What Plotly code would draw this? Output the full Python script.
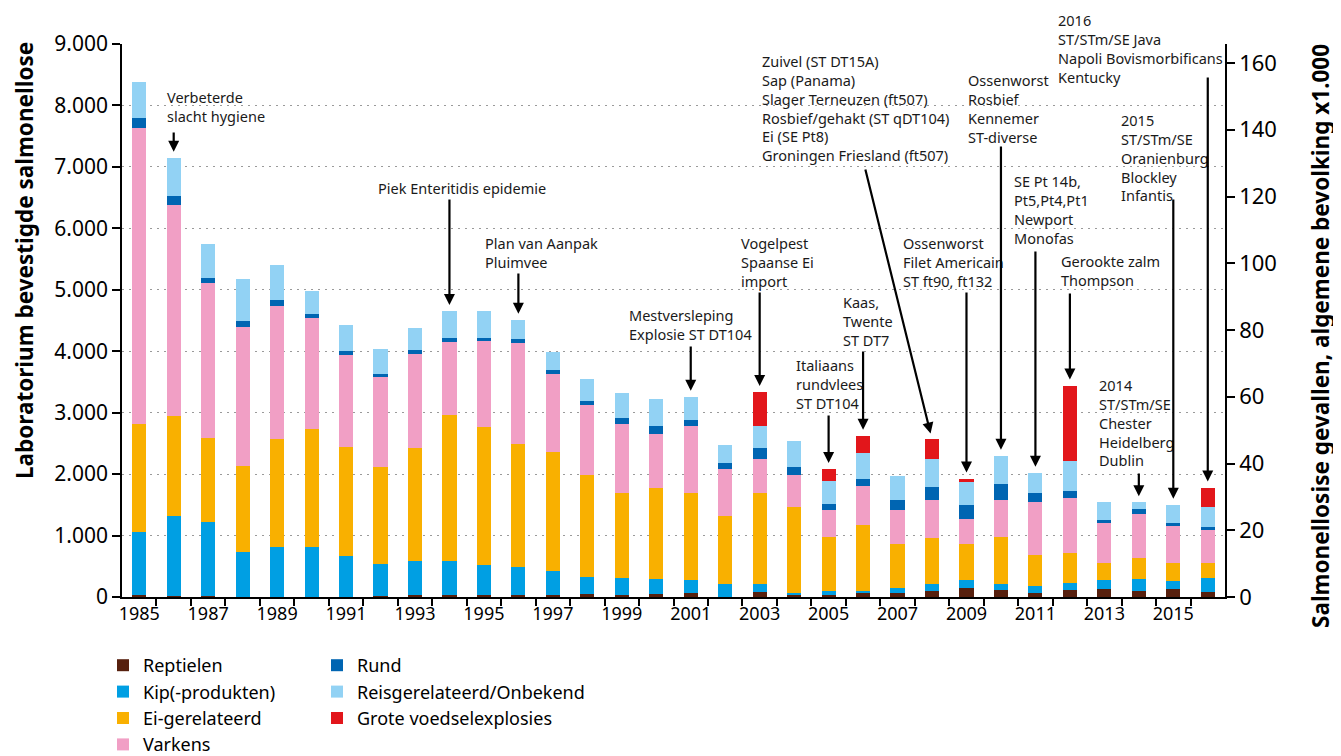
import plotly.graph_objects as go

# ---------------- data ----------------
years = list(range(1985, 2017))
reptielen = [28, 23, 23, 0, 0, 0, 0, 23, 36, 36, 36, 36, 36, 54, 36, 54,
             72, 0, 83, 36, 36, 60, 72, 96, 143, 120, 72, 108, 132, 94, 127, 75]
kip = [1031, 1302, 1205, 735, 819, 819, 674, 518, 554, 554, 493, 445, 384, 270, 277, 247,
       205, 217, 134, 36, 60, 36, 71, 121, 134, 97, 109, 114, 140, 198, 126, 241]
ei = [1760, 1614, 1361, 1396, 1758, 1915, 1771, 1567, 1842, 2373, 2241, 2012, 1941, 1664, 1385, 1481,
      1421, 1108, 1481, 1385, 880, 1084, 712, 746, 590, 759, 505, 495, 285, 342, 304, 241]
varkens = [4817, 3444, 2523, 2265, 2162, 1806, 1493, 1474, 1525, 1193, 1398, 1644, 1270, 1137, 1121, 874,
           1085, 759, 549, 531, 445, 627, 554, 614, 410, 601, 868, 899, 640, 710, 603, 539]
rund = [163, 145, 85, 97, 96, 67, 67, 49, 66, 59, 47, 66, 67, 67, 96, 127,
        102, 96, 181, 132, 96, 120, 168, 217, 228, 266, 144, 114, 64, 95, 50, 51]
reis = [585, 621, 549, 686, 572, 380, 422, 409, 355, 440, 440, 308, 289, 355, 409, 440,
        373, 295, 355, 421, 374, 409, 398, 446, 362, 457, 325, 476, 280, 102, 292, 311]
explosies = [None] * 18 + [554, None, 193, 290, None, 326, 60, None, None, 1236, None, None, None, 323]

series = [
    ("Reptielen", reptielen, "#57200e", "legend"),
    ("Kip(-produkten)", kip, "#009fe3", "legend"),
    ("Ei-gerelateerd", ei, "#f9b000", "legend"),
    ("Varkens", varkens, "#f19fc5", "legend"),
    ("Rund", rund, "#0065b2", "legend2"),
    ("Reisgerelateerd/Onbekend", reis, "#92d2f4", "legend2"),
    ("Grote voedselexplosies", explosies, "#e2161b", "legend2"),
]

left_ticks = [0, 1000, 2000, 3000, 4000, 5000, 6000, 7000, 8000, 9000]
right_ticks = [0, 20, 40, 60, 80, 100, 120, 140, 160]
label_years = list(range(1985, 2016, 2))

# event annotations: text, text left px, text top px, target year, arrow tail px y, arrow tail px x (None = vertical)
events = [
    ("Verbeterde<br>slacht hygiene", 165, 85, 1986, 131, None),
    ("Piek Enteritidis epidemie", 376, 176, 1994, 198, None),
    ("Plan van Aanpak<br>Pluimvee", 483, 231, 1996, 272, None),
    ("Mestversleping<br>Explosie ST DT104", 627, 303, 2001, 345, None),
    ("Vogelpest<br>Spaanse Ei<br>import", 739, 231, 2003, 291, None),
    ("Zuivel (ST DT15A)<br>Sap (Panama)<br>Slager Terneuzen (ft507)<br>Rosbief/gehakt (ST qDT104)<br>Ei (SE Pt8)<br>Groningen Friesland (ft507)",
     760, 49, 2008, 168, 865),
    ("Italiaans<br>rundvlees<br>ST DT104", 794, 353, 2005, 414, None),
    ("Kaas,<br>Twente<br>ST DT7", 841, 290, 2006, 350, None),
    ("Ossenworst<br>Filet Americain<br>ST ft90, ft132", 901, 231, 2009, 291, None),
    ("Ossenworst<br>Rosbief<br>Kennemer<br>ST-diverse", 966, 68, 2010, 145, None),
    ("SE Pt 14b,<br>Pt5,Pt4,Pt1<br>Newport<br>Monofas", 1012, 169, 2011, 250, None),
    ("Gerookte zalm<br>Thompson", 1059, 249, 2012, 292, None),
    ("2014<br>ST/STm/SE<br>Chester<br>Heidelberg<br>Dublin", 1097, 373, 2014, 472, None),
    ("2015<br>ST/STm/SE<br>Oranienburg<br>Blockley<br>Infantis", 1119, 108, 2015, 198, None),
    ("2016<br>ST/STm/SE Java<br>Napoli Bovismorbificans<br>Kentucky", 1056, 8, 2016, 76, None),
]

# ---------------- layout geometry (screen pixels) ----------------
OFF = 8                      # page body margin of the html output
W, H = 1341 - OFF, 756 - OFF
PL, PR, PT, PB = 122, 1225, 44, 597
XMIN, XMAX = 1984.5, 2016.5
YMAX = 9000
Y2MAX = 165.7
FONT = "Noto Sans"


def xpaper(px):
    return (px - PL) / (PR - PL)


def ypaper(py):
    return (PB - py) / (PB - PT)


def xdata(px):
    return XMIN + (px - PL) / (PR - PL) * (XMAX - XMIN)


def ydata(py):
    return (PB - py) / (PB - PT) * YMAX


fig = go.Figure()
for name, vals, color, lg in series:
    fig.add_trace(go.Bar(
        x=years, y=vals, name=name, marker=dict(color=color, line=dict(width=0)),
        width=0.41, legend=lg,
    ))

# invisible trace to keep the right axis alive
fig.add_trace(go.Scatter(x=[years[0]], y=[0], yaxis="y2", mode="markers",
                         marker=dict(opacity=0), showlegend=False, hoverinfo="skip"))

totals = []
for i in range(len(years)):
    t = 0
    for _, vals, _, _ in series:
        if vals[i] is not None:
            t += vals[i]
    totals.append(t)

annotations = []
for text, lx, ty, yr, tail_py, tail_px in events:
    annotations.append(dict(
        text=text, xref="paper", yref="paper", x=xpaper(lx), y=ypaper(ty),
        xanchor="left", yanchor="top", align="left", showarrow=False,
        font=dict(family=FONT, size=14.5, color="#1a1a1a"),
    ))
    idx = years.index(yr)
    annotations.append(dict(
        text="", x=yr, y=totals[idx], xref="x", yref="y",
        ax=yr if tail_px is None else xdata(tail_px), ay=ydata(tail_py),
        axref="x", ayref="y", showarrow=True, arrowhead=2, arrowsize=1,
        arrowwidth=2.2, arrowcolor="#000000", standoff=6,
    ))

# axis titles
annotations.append(dict(
    text="<b>Laboratorium bevestigde salmonellose</b>", xref="paper", yref="paper",
    x=xpaper(24), y=ypaper(261), xanchor="center", yanchor="middle", textangle=-90,
    showarrow=False, font=dict(family=FONT, size=22.5, color="#000000"),
))
annotations.append(dict(
    text="<b>Salmonellosise gevallen, algemene bevolking x1.000</b>", xref="paper", yref="paper",
    x=xpaper(1320), y=ypaper(336), xanchor="center", yanchor="middle", textangle=-90,
    showarrow=False, font=dict(family=FONT, size=22.5, color="#000000"),
))

fig.update_layout(
    width=W, height=H,
    margin=dict(l=PL - OFF, r=(W + OFF) - PR, t=PT - OFF, b=(H + OFF) - PB, autoexpand=False),
    barmode="stack",
    bargap=0,
    separators=",.",
    plot_bgcolor="white", paper_bgcolor="white",
    font=dict(family=FONT, color="#000000"),
    xaxis=dict(
        range=[XMIN, XMAX], tickmode="array", tickvals=label_years,
        ticktext=[str(y) for y in label_years], ticks="", showgrid=False,
        showline=True, linecolor="#000000", linewidth=1.5, zeroline=False,
        tickfont=dict(family=FONT, size=18, color="#000000"),
        minor=dict(tickmode="array", tickvals=[y + 0.5 for y in years[:-1]],
                   ticks="outside", ticklen=7, tickwidth=1.5, tickcolor="#000000", showgrid=False),
    ),
    yaxis=dict(
        range=[0, YMAX], tickmode="array", tickvals=left_ticks, tickformat=",d",
        ticks="outside", ticklen=8, tickwidth=1.5, tickcolor="#000000",
        showline=True, linecolor="#000000", linewidth=1.5, zeroline=False,
        showgrid=True, gridcolor="#9a9a9a", gridwidth=1.3, griddash="2px,5px",
        tickfont=dict(family=FONT, size=21, color="#000000"),
    ),
    yaxis2=dict(
        range=[0, Y2MAX], overlaying="y", side="right", tickmode="array", tickvals=right_ticks,
        ticks="outside", ticklen=8, tickwidth=1.5, tickcolor="#000000",
        showline=True, linecolor="#000000", linewidth=1.5, zeroline=False, showgrid=False,
        tickfont=dict(family=FONT, size=22, color="#000000"),
    ),
    legend=dict(
        x=xpaper(103), y=ypaper(647), xanchor="left", yanchor="top", orientation="v",
        font=dict(family=FONT, size=18, color="#000000"), traceorder="normal",
        bgcolor="rgba(0,0,0,0)", tracegroupgap=0,
    ),
    legend2=dict(
        x=xpaper(317), y=ypaper(647), xanchor="left", yanchor="top", orientation="v",
        font=dict(family=FONT, size=18, color="#000000"), traceorder="normal",
        bgcolor="rgba(0,0,0,0)", tracegroupgap=0,
    ),
    annotations=annotations,
    showlegend=True,
)

fig.write_html("out.html")
